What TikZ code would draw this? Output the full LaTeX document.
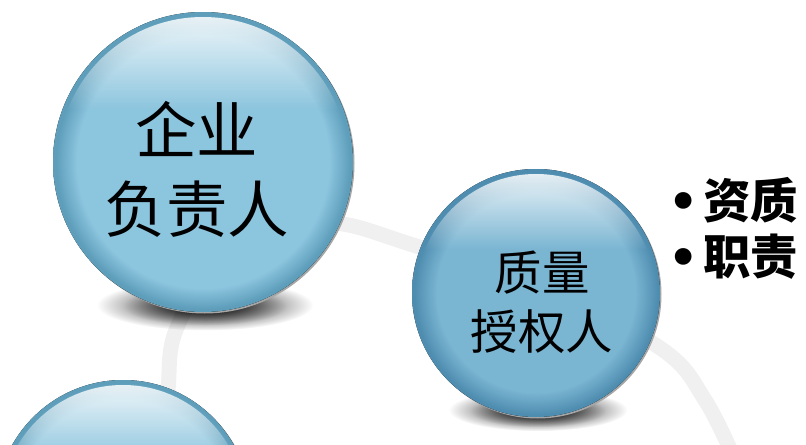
\documentclass[tikz,border=0pt]{standalone}
\usepackage{fontspec}
\newfontfamily\cjk{Noto Sans CJK SC}
\newfontfamily\sym{DejaVu Sans}
\usepackage{tikz}
\usetikzlibrary{fadings}

% colours
\definecolor{ringgray}{HTML}{F0F0F0}
\definecolor{oneMid}{HTML}{8CC5DE}
\definecolor{oneRim}{HTML}{5E9EBB}
\definecolor{twoMid}{HTML}{7AB5D2}
\definecolor{twoRim}{HTML}{4F8DB0}

\pgfdeclareradialshading{ballone}{\pgfpoint{0bp}{0bp}}{color(0bp)=(oneMid); color(21bp)=(oneMid); color(24.5bp)=(oneRim); color(50bp)=(oneRim)}
\pgfdeclareradialshading{balltwo}{\pgfpoint{0bp}{0bp}}{color(0bp)=(twoMid); color(20bp)=(twoMid); color(24.5bp)=(twoRim); color(50bp)=(twoRim)}
\tikzfading[name=shadowfade, inner color=transparent!0, outer color=transparent!100]

% ball: centre x, centre y, radius, shading
\newcommand{\drawball}[4]{%
	\fill[black, path fading=shadowfade] (#1+2,#2-#3+7) ellipse ({0.72*#3} and {0.17*#3});
	\fill[black, path fading=shadowfade, fill opacity=0.6] (#1+2,#2-#3+6) ellipse ({0.55*#3} and {0.13*#3});
	\fill[gray!70] (#1+1.5,#2-1.5) circle (#3);
	\fill[shading=#4] (#1,#2) circle (#3);
	\begin{scope}
		\clip (#1,#2) circle ({#3-5});
		\fill[white, path fading=south, fill opacity=0.9] (#1-#3,#2+#3) rectangle (#1+#3,#2+0.35*#3);
	\end{scope}}

\tikzset{
	balltext/.style={font=\cjk\fontsize{35}{45}\selectfont, align=center},
	smalltext/.style={font=\cjk\fontsize{27}{33.5}\selectfont, align=center},
	bullettext/.style={font=\cjk\bfseries\fontsize{27}{32}\selectfont, align=left, anchor=west, inner sep=0pt}
}
\newcommand{\bulletdot}{\makebox[0.7cm][l]{\sym •}}

\begin{document}
\begin{tikzpicture}[x=0.02cm, y=0.02cm]
	\useasboundingbox (0,0) rectangle (806,444);

	% Background ring
	\draw[ringgray, line width=0.3cm] plot[smooth, tension=0.6] coordinates {(163,-16) (168,54) (176,114) (220,184) (290,219) (343,220) (413,199) (550,154) (663,94) (705,44) (735,-16)};

	% Balls
	\drawball{123}{-63}{127}{ballone}
	\drawball{536}{151}{124}{balltwo}
	\drawball{203}{282}{150}{ballone}

	% Labels
	\node[balltext] (head) at (197,275) {企业\\负责人};
	\node[smalltext] (qp) at (542,142) {质量\\授权人};
	\node[bullettext] (duty) at (668,216) {\bulletdot 资质\\\bulletdot 职责};

\end{tikzpicture}
\end{document}
